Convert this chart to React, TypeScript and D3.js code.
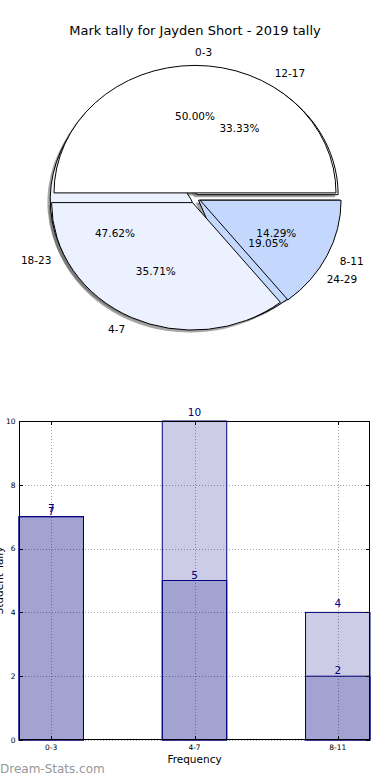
import React, { useEffect, useRef } from "react";
import * as d3 from "d3";

// chart data
const title = "Mark tally for Jayden Short - 2019 tally";
const groupsA = ["0-3", "4-7", "8-11"];
const valuesA = [7, 5, 2];
const groupsB = ["12-17", "18-23", "24-29"];
const valuesB = [7, 10, 4];
const sliceColors = ["#ffffff", "#ebf1fe", "#c4d8fd"];
const yTicks = [0, 2, 4, 6, 8, 10];
const xLabel = "Frequency";
const yLabel = "Student Tally";

const FONT = "DejaVu Sans, sans-serif";

function App() {
  const ref = useRef<SVGSVGElement | null>(null);

  useEffect(() => {
    const svg = d3.select(ref.current);
    svg.selectAll("*").remove();

    svg
      .append("text")
      .attr("x", 195)
      .attr("y", 34.5)
      .attr("text-anchor", "middle")
      .style("font-family", FONT)
      .style("font-size", "13px")
      .text(title);

    drawPies(svg);
    drawBars(svg);

    svg
      .append("text")
      .attr("x", 0)
      .attr("y", 772.5)
      .style("font-family", FONT)
      .style("font-size", "12px")
      .style("fill", "#979797")
      .text("Dream-Stats.com");
  }, []);

  function drawPies(svg: any) {
    const cx = 195;
    const cy = 198;
    const rx = 141;
    const ry = 127.5;

    const pieGen = d3
      .pie<number>()
      .sort(null)
      .startAngle(Math.PI / 2)
      .endAngle(Math.PI / 2 - 2 * Math.PI);
    const arcGen = d3.arc<any>().innerRadius(0).outerRadius(1);

    const build = (labels: string[], values: number[], explode: number) => {
      const total = d3.sum(values);
      return pieGen(values).map((d, i) => {
        const mid = (d.startAngle + d.endAngle) / 2;
        const ux = Math.sin(mid);
        const uy = -Math.cos(mid);
        return {
          d,
          label: labels[i],
          pct: ((values[i] / total) * 100).toFixed(2) + "%",
          color: sliceColors[i],
          ux,
          uy,
          x: cx + explode * rx * ux,
          y: cy + explode * ry * uy,
        };
      });
    };

    const slicesA = build(groupsA, valuesA, 0.04);
    const slicesB = build(groupsB, valuesB, 0.03);
    const all = [...slicesB, ...slicesA];

    const g = svg.append("g");

    // shadows
    g.selectAll(".shadow")
      .data(all)
      .enter()
      .append("path")
      .attr("d", (s: any) => arcGen(s.d))
      .attr(
        "transform",
        (s: any) => `translate(${s.x - 0.02 * rx},${s.y + 0.02 * ry}) scale(${rx},${ry})`
      )
      .style("fill", "#4d4d4d")
      .style("fill-opacity", 0.5)
      .style("stroke", "none");

    g.selectAll(".wedge")
      .data(all)
      .enter()
      .append("path")
      .attr("d", (s: any) => arcGen(s.d))
      .attr("transform", (s: any) => `translate(${s.x},${s.y}) scale(${rx},${ry})`)
      .attr("vector-effect", "non-scaling-stroke")
      .style("fill", (s: any) => s.color)
      .style("stroke", "#000")
      .style("stroke-width", 1)
      .style("stroke-linejoin", "miter");

    g.selectAll(".lbl")
      .data(all)
      .enter()
      .append("text")
      .attr("x", (s: any) => s.x + 1.1 * rx * s.ux)
      .attr("y", (s: any) => s.y + 1.1 * ry * s.uy)
      .attr("dy", "0.36em")
      .attr("text-anchor", (s: any) => (s.ux >= -1e-9 ? "start" : "end"))
      .style("font-family", FONT)
      .style("font-size", "10.5px")
      .text((s: any) => s.label);

    g.selectAll(".pct")
      .data(all)
      .enter()
      .append("text")
      .attr("x", (s: any) => s.x + 0.6 * rx * s.ux)
      .attr("y", (s: any) => s.y + 0.6 * ry * s.uy)
      .attr("dy", "0.36em")
      .attr("text-anchor", "middle")
      .style("font-family", FONT)
      .style("font-size", "10.5px")
      .text((s: any) => s.pct);
  }

  function drawBars(svg: any) {
    const left = 19;
    const right = 370;
    const top = 421;
    const bottom = 740;
    const barW = 0.45;

    const x = d3.scaleLinear().domain([0, groupsA.length - 1 + barW]).range([left, right]);
    const y = d3.scaleLinear().domain([0, 10]).range([bottom, top]);
    const tickPos = groupsA.map((_, i) => i + barW / 2);

    const g = svg.append("g");

    const series = [
      { values: valuesB, offset: 5 },
      { values: valuesA, offset: 2 },
    ];

    series.forEach((s) => {
      g.selectAll(null)
        .data(s.values)
        .enter()
        .append("rect")
        .attr("x", (_: number, i: number) => x(i))
        .attr("y", (v: number) => y(v))
        .attr("width", x(barW) - x(0))
        .attr("height", (v: number) => y(0) - y(v))
        .style("fill", "#000080")
        .style("fill-opacity", 0.2)
        .style("stroke", "#000080")
        .style("stroke-width", 1);
    });

    // grid
    const grid = g.append("g").style("stroke", "#000").style("stroke-opacity", 0.35)
      .style("stroke-dasharray", "1 2").style("stroke-width", 1);
    grid.selectAll(null)
      .data(yTicks)
      .enter()
      .append("line")
      .attr("x1", left)
      .attr("x2", right)
      .attr("y1", (v: number) => Math.round(y(v)) + 0.5)
      .attr("y2", (v: number) => Math.round(y(v)) + 0.5);
    grid.selectAll(null)
      .data(tickPos)
      .enter()
      .append("line")
      .attr("x1", (v: number) => Math.round(x(v)) + 0.5)
      .attr("x2", (v: number) => Math.round(x(v)) + 0.5)
      .attr("y1", top)
      .attr("y2", bottom);

    // value labels
    series.forEach((s) => {
      g.selectAll(null)
        .data(s.values)
        .enter()
        .append("text")
        .attr("x", (_: number, i: number) => x(tickPos[i]))
        .attr("y", (v: number) => y(v) - s.offset)
        .attr("text-anchor", "middle")
        .style("font-family", FONT)
        .style("font-size", "10.5px")
        .style("fill", "#000080")
        .text((v: number) => v);
    });

    // frame
    g.append("rect")
      .attr("x", left + 0.5)
      .attr("y", top + 0.5)
      .attr("width", right - left - 1)
      .attr("height", bottom - top - 1)
      .style("fill", "none")
      .style("stroke", "#000")
      .style("stroke-width", 1);

    // ticks inside on all sides
    const ticks = g.append("g").style("stroke", "#000").style("stroke-width", 1);
    yTicks.forEach((v) => {
      const yy = Math.round(y(v)) + 0.5;
      ticks.append("line").attr("x1", left).attr("x2", left + 4).attr("y1", yy).attr("y2", yy);
      ticks.append("line").attr("x1", right - 4).attr("x2", right).attr("y1", yy).attr("y2", yy);
    });
    tickPos.forEach((v) => {
      const xx = Math.round(x(v)) + 0.5;
      ticks.append("line").attr("x1", xx).attr("x2", xx).attr("y1", bottom - 4).attr("y2", bottom);
      ticks.append("line").attr("x1", xx).attr("x2", xx).attr("y1", top).attr("y2", top + 4);
    });

    g.selectAll(null)
      .data(yTicks)
      .enter()
      .append("text")
      .attr("x", left - 3.5)
      .attr("y", (v: number) => y(v))
      .attr("dy", "0.36em")
      .attr("text-anchor", "end")
      .style("font-family", FONT)
      .style("font-size", "7.5px")
      .text((v: number) => v);

    g.selectAll(null)
      .data(groupsA)
      .enter()
      .append("text")
      .attr("x", (_: string, i: number) => x(tickPos[i]))
      .attr("y", bottom + 9.5)
      .attr("text-anchor", "middle")
      .style("font-family", FONT)
      .style("font-size", "7.5px")
      .text((d: string) => d);

    g.append("text")
      .attr("x", (left + right) / 2)
      .attr("y", 763)
      .attr("text-anchor", "middle")
      .style("font-family", FONT)
      .style("font-size", "10.5px")
      .text(xLabel);

    g.append("text")
      .attr("transform", `translate(3,${(top + bottom) / 2}) rotate(-90)`)
      .attr("text-anchor", "middle")
      .style("font-family", FONT)
      .style("font-size", "10.5px")
      .text(yLabel);
  }

  return (
    <div style={{ position: "absolute", left: 0, top: 0 }}>
      <svg ref={ref} width={390} height={780} style={{ display: "block", background: "#fff" }} />
    </div>
  );
}

export default App;
